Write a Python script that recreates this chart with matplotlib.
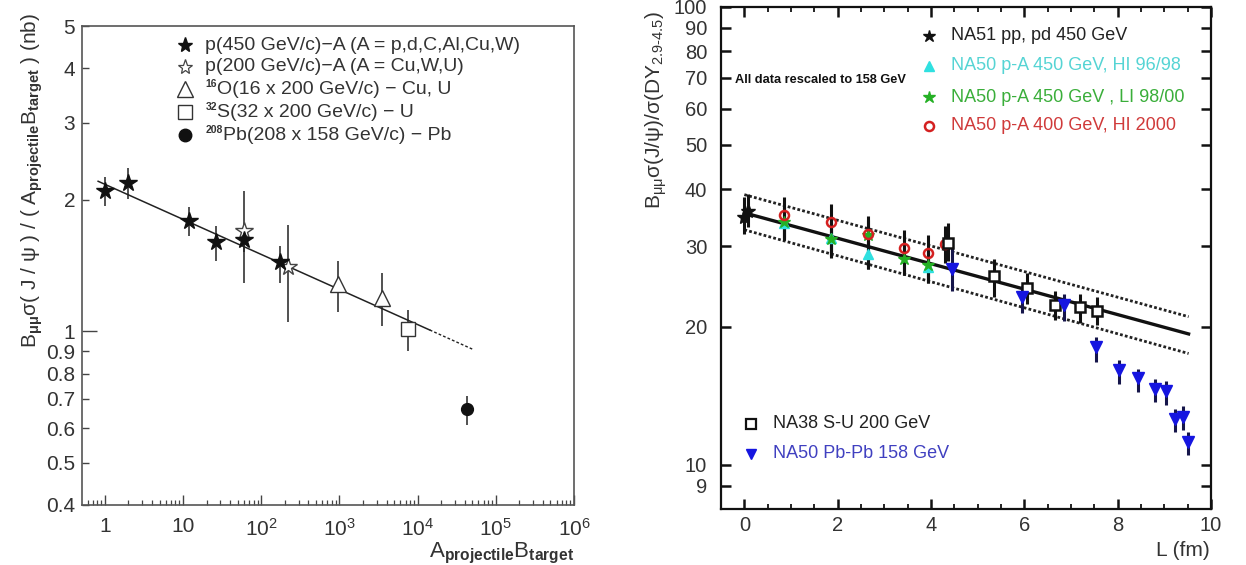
import numpy as np
import matplotlib
matplotlib.use('Agg')
import matplotlib.pyplot as plt
from matplotlib.lines import Line2D
from matplotlib.ticker import FixedLocator, FixedFormatter, NullFormatter, MultipleLocator

plt.rcParams['font.family'] = ['Liberation Sans', 'DejaVu Sans']
plt.rcParams['mathtext.fontset'] = 'custom'
plt.rcParams['mathtext.rm'] = 'Liberation Sans'
plt.rcParams['mathtext.it'] = 'Liberation Sans:italic'
plt.rcParams['mathtext.bf'] = 'Liberation Sans:bold'
plt.rcParams['mathtext.sf'] = 'Liberation Sans'

# ---------------- left panel data (A_proj * B_target, sigma/AB in nb)
p450_x = [1, 2, 12, 26, 60, 175]
p450_y = [2.10, 2.19, 1.79, 1.60, 1.62, 1.44]
p450_lo = [1.94, 2.01, 1.65, 1.45, 1.52, 1.29]
p450_hi = [2.25, 2.36, 1.93, 1.74, 1.72, 1.57]

p200_x = [60, 220]
p200_y = [1.70, 1.40]
p200_lo = [1.29, 1.05]
p200_hi = [2.10, 1.75]

oxy_x = [950, 3500]
oxy_y = [1.28, 1.19]
oxy_lo = [1.107, 1.03]
oxy_hi = [1.45, 1.36]

sul_x = [7600]
sul_y = [1.01]
sul_lo = [0.90]
sul_hi = [1.12]

pb_x = [43000]
pb_y = [0.664]
pb_lo = [0.61]
pb_hi = [0.71]

fitL_amp = 2.17
fitL_exp = -0.0803
fitL_solid = [0.82, 14300]
fitL_dash = [14300, 52000]

# (superscript, main text) for each legend row
left_sups = ["", "", "16", "32", "208"]
left_labels = [
    "p(450 GeV/c)\u2212A (A = p,d,C,Al,Cu,W)",
    "p(200 GeV/c)\u2212A (A = Cu,W,U)",
    "O(16 x 200 GeV/c) \u2212 Cu, U",
    "S(32 x 200 GeV/c) \u2212 U",
    "Pb(208 x 158 GeV/c) \u2212 Pb",
]
left_yticks = [0.4, 0.5, 0.6, 0.7, 0.8, 0.9, 2, 3, 4, 5]
left_yticklabels = ["0.4", "0.5", "0.6", "0.7", "0.8", "0.9", "2", "3", "4", "5"]
left_xticks = [1, 10, 1e2, 1e3, 1e4, 1e5, 1e6]
left_xticklabels = ["1", "10", "10$^{2}$", "10$^{3}$", "10$^{4}$", "10$^{5}$", "10$^{6}$"]

# ---------------- right panel data (L in fm, ratio)
na51_L = [0.0, 0.07]
na51_y = [34.8, 35.9]
na51_lo = [31.9, 33.0]
na51_hi = [38.5, 39.0]

hi9698_L = [0.85, 1.85, 2.66, 3.94]
hi9698_y = [33.7, 31.2, 28.8, 27.1]
hi9698_lo = [31.0, 28.6, 26.7, 24.9]
hi9698_hi = [36.5, 34.0, 31.0, 29.4]

li9800_L = [0.85, 1.85, 2.66, 3.42, 3.94]
li9800_y = [33.9, 31.1, 31.8, 28.2, 27.3]
li9800_lo = [31.2, 28.5, 29.5, 26.0, 25.1]
li9800_hi = [36.6, 33.8, 34.2, 30.5, 29.6]

hi2000_L = [0.85, 1.85, 2.66, 3.42, 3.94, 4.30]
hi2000_y = [35.1, 33.9, 31.9, 29.7, 29.0, 30.3]
hi2000_lo = [31.0, 28.3, 26.7, 26.0, 24.9, 27.6]
hi2000_hi = [38.5, 37.1, 34.9, 32.6, 31.8, 33.2]

na38_L = [4.37, 5.36, 6.05, 6.66, 7.19, 7.55]
na38_y = [30.5, 25.8, 24.3, 22.3, 22.1, 21.7]
na38_lo = [27.8, 23.3, 22.4, 20.7, 20.4, 20.2]
na38_hi = [33.7, 28.1, 26.2, 24.0, 23.6, 23.2]

pbpb_L = [4.44, 5.96, 6.85, 7.53, 8.03, 8.44, 8.79, 9.03, 9.23, 9.41, 9.51]
pbpb_y = [26.8, 23.3, 22.3, 18.1, 16.1, 15.45, 14.66, 14.5, 12.6, 12.7, 11.2]
pbpb_lo = [24.0, 21.5, 20.6, 16.8, 15.0, 14.4, 13.7, 13.5, 11.8, 11.9, 10.5]
pbpb_hi = [30.3, 24.6, 23.6, 19.0, 16.9, 16.2, 15.4, 15.2, 13.2, 13.4, 11.8]

fit_L_range = [0.0, 9.52]
fit_center = (35.5, 0.064)
fit_upper = (38.9, 0.0645)
fit_lower = (32.6, 0.0654)

right_legend_top = [
    "NA51 pp, pd 450 GeV",
    "NA50 p-A 450 GeV, HI 96/98",
    "NA50 p-A 450 GeV , LI 98/00",
    "NA50 p-A 400 GeV, HI 2000",
]
right_legend_bottom = ["NA38 S-U 200 GeV", "NA50 Pb-Pb 158 GeV"]
right_yticks = [9, 10, 20, 30, 40, 50, 60, 70, 80, 90, 100]
right_xticks = [0, 2, 4, 6, 8, 10]

# ---------------- colours
C_CYAN = '#2fe0e0'
C_GREEN = '#25b025'
C_RED = '#d42020'
C_BLUE = '#1515e0'
T_CYAN = '#55d4d4'
T_GREEN = '#3aae3a'
T_RED = '#d03a3a'
T_BLUE = '#4040c0'
C_GRAYTXT = '#333333'

W, H = 1246, 565
fig = plt.figure(figsize=(W / 100, H / 100), dpi=100)


def fx(px):
    return px / W


def fy(py):
    return 1 - py / H


def err(y, lo, hi):
    y = np.asarray(y)
    return [y - np.asarray(lo), np.asarray(hi) - y]


# ======================= LEFT PANEL =======================
axL = fig.add_axes([fx(82), fy(505), fx(574) - fx(82), fy(26) - fy(505)])
axL.set_xscale('log')
axL.set_yscale('log')
axL.set_xlim(0.51, 1e6)
axL.set_ylim(0.4, 5)

ek = dict(fmt='none', ecolor='#222222', elinewidth=1.1, capsize=0, zorder=2)
axL.errorbar(p450_x, p450_y, yerr=err(p450_y, p450_lo, p450_hi), **ek)
axL.errorbar(p200_x, p200_y, yerr=err(p200_y, p200_lo, p200_hi), **ek)
axL.errorbar(oxy_x, oxy_y, yerr=err(oxy_y, oxy_lo, oxy_hi), **ek)
axL.errorbar(sul_x, sul_y, yerr=err(sul_y, sul_lo, sul_hi), **ek)
axL.errorbar(pb_x, pb_y, yerr=err(pb_y, pb_lo, pb_hi), **ek)

xs = np.geomspace(*fitL_solid, 100)
axL.plot(xs, fitL_amp * xs ** fitL_exp, color='#222222', lw=1.1, zorder=3)
xd = np.geomspace(*fitL_dash, 50)
axL.plot(xd, fitL_amp * xd ** fitL_exp, color='#222222', lw=1.0, ls=(0, (2, 1.5)), zorder=3)

axL.plot(p450_x, p450_y, ls='none', marker='*', ms=13, color='#111111', mec='#111111', zorder=5)
axL.plot(p200_x, p200_y, ls='none', marker='*', ms=13, mfc='white', mec='#444444', mew=1.0, zorder=4)
axL.plot(oxy_x, oxy_y, ls='none', marker='^', ms=11, mfc='white', mec='#333333', mew=1.0, zorder=5)
axL.plot(sul_x, sul_y, ls='none', marker='s', ms=10.5, mfc='white', mec='#333333', mew=1.0, zorder=5)
axL.plot(pb_x, pb_y, ls='none', marker='o', ms=8.5, color='#111111', zorder=5)

# ticks
axL.yaxis.set_major_locator(FixedLocator([1]))
axL.yaxis.set_major_formatter(FixedFormatter(["1"]))
axL.yaxis.set_minor_locator(FixedLocator(left_yticks))
axL.yaxis.set_minor_formatter(FixedFormatter(left_yticklabels))
axL.xaxis.set_major_locator(FixedLocator(left_xticks))
axL.xaxis.set_major_formatter(FixedFormatter(left_xticklabels))
axL.tick_params(axis='y', which='major', direction='in', length=11, width=1.0, color='#444444',
                labelsize=15, labelcolor=C_GRAYTXT, pad=5)
axL.tick_params(axis='y', which='minor', direction='in', length=5, width=1.0, color='#444444',
                labelsize=15, labelcolor=C_GRAYTXT, pad=5)
axL.tick_params(axis='x', which='major', direction='in', length=7, width=1.0, color='#444444',
                labelsize=15, labelcolor=C_GRAYTXT, pad=9)
axL.tick_params(axis='x', which='minor', direction='in', length=3.5, width=0.9, color='#444444')
for s in axL.spines.values():
    s.set_color('#555555')
    s.set_linewidth(1.2)

# left legend
leg_rows = [45, 66.7, 89, 112.3, 135]
sup_width = {"": 0, "16": 12, "32": 12, "208": 18}
leg_markers = [
    dict(marker='*', ms=11, color='#111111'),
    dict(marker='*', ms=11, mfc='white', mec='#444444', mew=0.9),
    dict(marker='^', ms=11, mfc='white', mec='#333333', mew=1.0),
    dict(marker='s', ms=10, mfc='white', mec='#333333', mew=1.0),
    dict(marker='o', ms=9, color='#111111'),
]
for row, sup, lab, mk in zip(leg_rows, left_sups, left_labels, leg_markers):
    fig.add_artist(Line2D([fx(185)], [fy(row)], transform=fig.transFigure, ls='none', **mk))
    x0 = 205 + sup_width[sup]
    if sup:
        fig.text(fx(x0), fy(row - 5), sup, fontsize=7.5, fontweight='bold', color=C_GRAYTXT,
                 ha='right', va='center')
    fig.text(fx(x0), fy(row), lab, fontsize=14, color=C_GRAYTXT, ha='left', va='center')

fig.text(fx(32), fy(180),
         "B$_{\\mathbf{\\mu\\mu}}$\u03c3( J / \u03c8 ) / ( A$_{\\mathbf{projectile}}$B$_{\\mathbf{target}}$ ) (nb)",
         rotation=90, fontsize=15, color=C_GRAYTXT, ha='center', va='center')
fig.text(fx(574), fy(553), "A$_{\\mathbf{projectile}}$B$_{\\mathbf{target}}$",
         fontsize=16, color=C_GRAYTXT, ha='right', va='center')

# ======================= RIGHT PANEL =======================
axR = fig.add_axes([fx(721), fy(509), fx(1211) - fx(721), fy(7) - fy(509)])
axR.set_yscale('log')
axR.set_xlim(-0.5, 10)
axR.set_ylim(8, 100)

Lc = np.linspace(*fit_L_range, 100)
axR.plot(Lc, fit_center[0] * np.exp(-fit_center[1] * Lc), color='#111111', lw=2.4, zorder=3)
axR.plot(Lc, fit_upper[0] * np.exp(-fit_upper[1] * Lc), color='#222222', lw=2.0, ls=(0, (1, 0.8)), zorder=3)
axR.plot(Lc, fit_lower[0] * np.exp(-fit_lower[1] * Lc), color='#222222', lw=2.0, ls=(0, (1, 0.8)), zorder=3)

ekR = dict(fmt='none', ecolor='#111111', elinewidth=2.2, capsize=0, zorder=4)
axR.errorbar(na51_L, na51_y, yerr=err(na51_y, na51_lo, na51_hi), **ekR)
axR.errorbar(hi9698_L, hi9698_y, yerr=err(hi9698_y, hi9698_lo, hi9698_hi), **ekR)
axR.errorbar(li9800_L, li9800_y, yerr=err(li9800_y, li9800_lo, li9800_hi), **ekR)
axR.errorbar(hi2000_L, hi2000_y, yerr=err(hi2000_y, hi2000_lo, hi2000_hi), **ekR)
axR.errorbar(na38_L, na38_y, yerr=err(na38_y, na38_lo, na38_hi), **ekR)
axR.errorbar(pbpb_L, pbpb_y, yerr=err(pbpb_y, pbpb_lo, pbpb_hi), fmt='none', ecolor='#15154a',
             elinewidth=2.2, capsize=0, zorder=4)

axR.plot(na51_L, na51_y, ls='none', marker='*', ms=11, color='#111111', zorder=6)
axR.plot(hi9698_L, hi9698_y, ls='none', marker='^', ms=7, color=C_CYAN, zorder=6)
axR.plot(li9800_L, li9800_y, ls='none', marker='*', ms=9, color=C_GREEN, zorder=6)
axR.plot(hi2000_L, hi2000_y, ls='none', marker='o', ms=6.5, mfc='none', mec=C_RED, mew=1.8, zorder=7)
axR.plot(na38_L, na38_y, ls='none', marker='s', ms=7, mfc='white', mec='#111111', mew=1.8, zorder=7)
axR.plot(pbpb_L, pbpb_y, ls='none', marker='v', ms=8, color=C_BLUE, zorder=7)

axR.yaxis.set_major_locator(FixedLocator(right_yticks))
axR.yaxis.set_major_formatter(FixedFormatter([str(v) for v in right_yticks]))
axR.yaxis.set_minor_locator(FixedLocator([]))
axR.yaxis.set_minor_formatter(NullFormatter())
axR.xaxis.set_major_locator(FixedLocator(right_xticks))
axR.xaxis.set_minor_locator(MultipleLocator(0.5))
axR.tick_params(axis='both', which='major', direction='in', length=7, width=1.8, color='#111111',
                labelsize=14.5, labelcolor=C_GRAYTXT, top=True, right=True)
axR.tick_params(axis='y', which='major', pad=10)
axR.tick_params(axis='x', which='major', pad=5)
axR.tick_params(axis='x', which='minor', direction='in', length=3.5, width=1.3, color='#111111',
                top=True, bottom=True)
for s in axR.spines.values():
    s.set_color('#111111')
    s.set_linewidth(1.6)

# right upper legend
top_rows = [36, 66, 97, 126]
top_markers = [
    dict(marker='*', ms=9, color='#111111'),
    dict(marker='^', ms=7, color=C_CYAN),
    dict(marker='*', ms=9, color=C_GREEN),
    dict(marker='o', ms=6.5, mfc='none', mec=C_RED, mew=1.8),
]
top_colors = ['#222222', T_CYAN, T_GREEN, T_RED]
for row, lab, mk, c in zip(top_rows, right_legend_top, top_markers, top_colors):
    fig.add_artist(Line2D([fx(929)], [fy(row)], transform=fig.transFigure, ls='none', **mk))
    fig.text(fx(951), fy(row), lab, fontsize=13, color=c, ha='left', va='center')

bot_rows = [424, 454]
bot_markers = [
    dict(marker='s', ms=6.5, mfc='white', mec='#111111', mew=1.6),
    dict(marker='v', ms=7, color=C_BLUE),
]
bot_colors = ['#222222', T_BLUE]
for row, lab, mk, c in zip(bot_rows, right_legend_bottom, bot_markers, bot_colors):
    fig.add_artist(Line2D([fx(751)], [fy(row)], transform=fig.transFigure, ls='none', **mk))
    fig.text(fx(773), fy(row), lab, fontsize=13, color=c, ha='left', va='center')

fig.text(fx(735), fy(80), "All data rescaled to 158 GeV", fontsize=9.2, fontweight='bold',
         color='#111111', ha='left', va='center')

fig.text(fx(656), fy(110), "B$_{\\mathrm{\\mu\\mu}}$\u03c3(J/\u03c8)/\u03c3(DY$_{2.9\\text{-}4.5}$)",
         rotation=90, fontsize=15, color=C_GRAYTXT, ha='center', va='center')
fig.text(fx(1210), fy(551), "L (fm)", fontsize=15, color=C_GRAYTXT, ha='right', va='center')

fig.savefig('out.png', dpi=100)
